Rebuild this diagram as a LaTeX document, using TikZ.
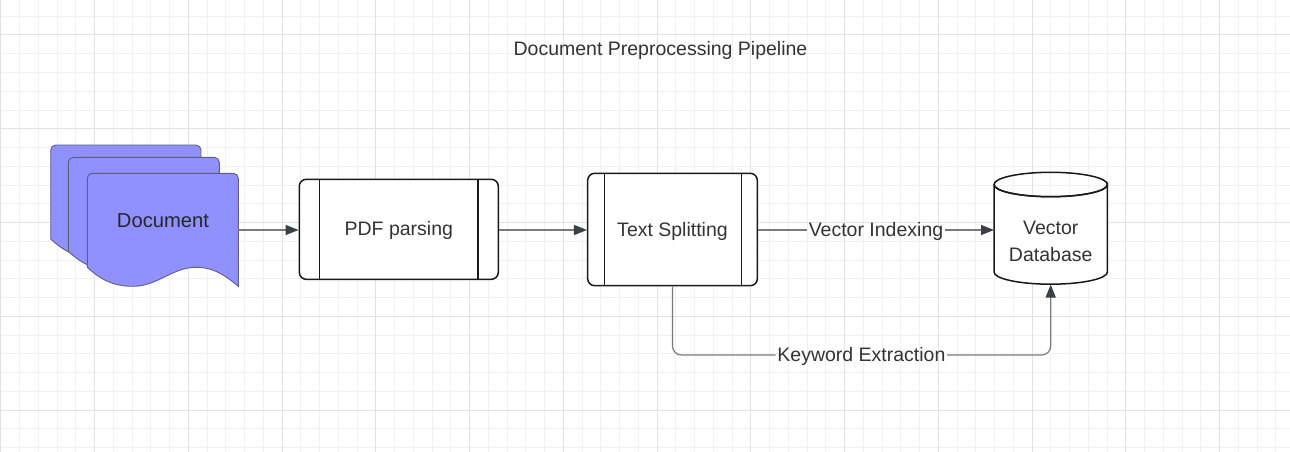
\documentclass[tikz,border=0pt]{standalone}
\usepackage{fontspec}
\setmainfont{Liberation Sans}
\usetikzlibrary{arrows.meta,calc}
\definecolor{gridminor}{HTML}{F1F1F1}
\definecolor{gridmajor}{HTML}{E2E2E2}
\definecolor{docfill}{HTML}{9090FF}
\definecolor{docline}{HTML}{5E5E80}
\definecolor{txt}{HTML}{333333}
\definecolor{edgecol}{HTML}{7A7A7A}
\definecolor{headcol}{HTML}{3A3F48}
\tikzset{
  lbl/.style={font=\fontsize{19.5}{23}\selectfont, text=txt, inner sep=1.5pt,
    text height=14pt, text depth=1pt},
  proc/.style={draw=black!90, line width=1.5pt, rounded corners=7pt, fill=white,
    font=\fontsize{19.5}{23}\selectfont, text=txt, text height=14pt, text depth=1pt},
  sheet/.style={fill=docfill, draw=docline, line width=0.9pt},
  edge/.style={draw=edgecol, line width=1.2pt},
  arr/.style={-{Triangle[length=13pt,width=10pt,color=headcol]}},
  divider/.style={draw=black!90, line width=1.5pt},
}
\newcommand{\docsheet}[3]{% L, T, R
  \path[sheet] (#1,{#2+94}) -- (#1,{#2+5}) arc[start angle=180,end angle=90,radius=5pt]
    -- ({#3-5},#2) arc[start angle=90,end angle=0,radius=5pt]
    -- (#3,{#2+113})
    .. controls ({#3-11},{#2+104}) and ({#3-23},{#2+94}) .. ({#1+109},{#2+94})
    .. controls ({#1+85},{#2+94}) and ({#1+70},{#2+113}) .. ({#1+46},{#2+113})
    .. controls ({#1+28},{#2+113}) and ({#1+15},{#2+108}) .. (#1,{#2+94}) -- cycle;
}
\begin{document}
\begin{tikzpicture}[x=1pt,y=-1pt]
\useasboundingbox (0,0) rectangle (1290,452);
\fill[white] (0,0) rectangle (1290,452);
% grid
\foreach \i in {0,...,69} {
  \draw[gridminor, line width=1pt] ({0.75+\i*18.75},0) -- ({0.75+\i*18.75},452);
}
\foreach \j in {0,...,25} {
  \draw[gridminor, line width=1pt] (0,{-2.5+\j*18.75}) -- (1290,{-2.5+\j*18.75});
}
\foreach \i in {0,...,13} {
  \draw[gridmajor, line width=1pt] ({0.75+\i*93.75},0) -- ({0.75+\i*93.75},452);
}
\foreach \j in {0,...,5} {
  \draw[gridmajor, line width=1pt] (0,{35+\j*93.75-93.75}) -- (1290,{35+\j*93.75-93.75});
}
% title
\node[lbl] (title) at (660.5,49) {Document Preprocessing Pipeline};
% document stack
\docsheet{50.7}{145}{201}
\docsheet{68.3}{157.3}{219.3}
\docsheet{87.3}{173.3}{238.3}
\node[lbl, text=black!85, font=\fontsize{20.2}{24}\selectfont] (doc) at (163,220.5) {Document};
\coordinate (docout) at (238.3,230);
% process boxes
\node[proc, minimum width=199pt, minimum height=100pt] (pdf) at (398.8,229.3) {PDF parsing};
\draw[divider] ([xshift=20.7pt]pdf.north west) -- ([xshift=20.7pt]pdf.south west);
\draw[divider] ([xshift=-21pt]pdf.north east) -- ([xshift=-21pt]pdf.south east);
\node[proc, minimum width=169.6pt, minimum height=112.4pt] (ts) at (672.5,229.5) {Text Splitting};
\draw[divider] ([xshift=17.3pt]ts.north west) -- ([xshift=17.3pt]ts.south west);
\draw[divider] ([xshift=-16.6pt]ts.north east) -- ([xshift=-16.6pt]ts.south east);
% cylinder
\path[fill=white, draw=black!90, line width=1.5pt]
  (994,184.5) -- (994,272) arc[start angle=180,end angle=360,x radius=56.7pt,y radius=12.2pt]
  -- (1107.4,184.5) arc[start angle=0,end angle=-180,x radius=56.7pt,y radius=12.2pt];
\draw[black!90, line width=1.5pt] (1050.7,184.5) ellipse[x radius=56.7pt,y radius=12.2pt];
\node[lbl, align=center, font=\fontsize{19.5}{27}\selectfont, text height=, text depth=] (db) at (1050.7,241) {Vector\\Database};
\coordinate (dbleft) at (994,230);
\coordinate (dbbottom) at (1050.7,284.5);
% edges
\draw[edge, arr] (docout) -- (docout -| pdf.west);
\draw[edge, arr] (pdf.east |- 0,230) -- (ts.west |- 0,230);
\node[lbl] (vi) at (876,230) {Vector Indexing};
\draw[edge] (ts.east |- 0,230) -- (vi.west);
\draw[edge, arr] (vi.east) -- (dbleft);
\node[lbl] (kw) at (861.4,355) {Keyword Extraction};
\draw[edge, rounded corners=9pt] (ts.south) |- (kw.west);
\draw[edge, arr, rounded corners=9pt] (kw.east) -| (dbbottom);
\end{tikzpicture}
\end{document}
